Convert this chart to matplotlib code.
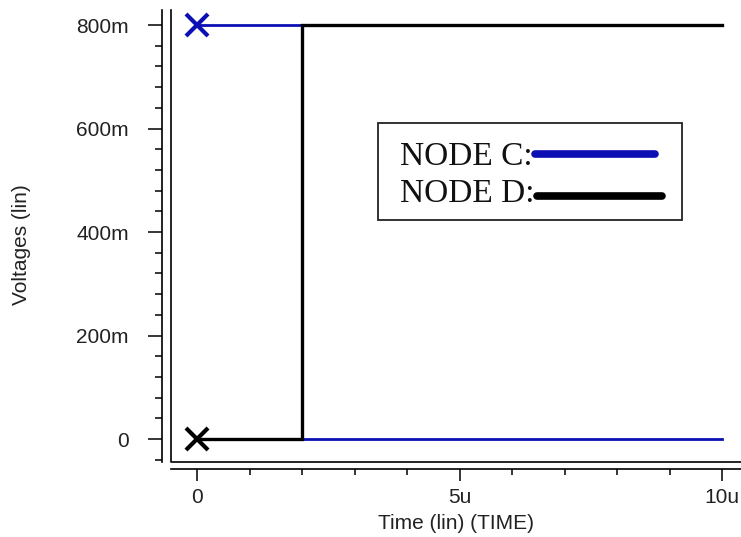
import matplotlib
matplotlib.use("Agg")
import matplotlib.pyplot as plt
from matplotlib.patches import Rectangle
from matplotlib.lines import Line2D
from matplotlib.ticker import FixedLocator

# waveform data (time in microseconds, volts)
time_us = [0, 2, 2, 10]
node_c = [0.8, 0.8, 0.0, 0.0]
node_d = [0.0, 0.0, 0.8, 0.8]

x_major = [-0.5, 0, 5, 10]
x_major_labels = ["", "0", "5u", "10u"]
x_minor = [1, 2, 3, 4, 6, 7, 8, 9]
y_major = [0.0, 0.2, 0.4, 0.6, 0.8]
y_major_labels = ["0", "200m", "400m", "600m", "800m"]
y_minor = [-0.04, 0.04, 0.08, 0.12, 0.16, 0.24, 0.28, 0.32, 0.36,
           0.44, 0.48, 0.52, 0.56, 0.64, 0.68, 0.72, 0.76]

legend_names = ["NODE C:", "NODE D:"]

BLUE = "#0c10b4"
BLACK = "#000000"
W, H = 741, 537

plt.rcParams["font.family"] = ["Liberation Sans", "DejaVu Sans"]

fig = plt.figure(figsize=(W / 100, H / 100), dpi=100)
ax = fig.add_axes([171 / W, 1 - 462 / H, 1 - 171 / W, (462 - 10) / H])

ax.plot(time_us, node_c, color=BLUE, lw=2.0, solid_joinstyle="miter")
ax.plot(time_us, node_d, color=BLACK, lw=2.4, solid_joinstyle="miter")
ax.plot([time_us[0]], [node_c[0]], marker="x", ms=16, mew=3, color=BLUE, clip_on=False)
ax.plot([time_us[0]], [node_d[0]], marker="x", ms=16, mew=3, color=BLACK, clip_on=False)

ax.set_xlim(-0.495, 10.36)
ax.set_ylim(-0.0444, 0.829)

# frame of the plot area (left and bottom only)
ax.plot([0, 0, 1], [1, 0, 0], transform=ax.transAxes, color=BLACK, lw=1.2,
        clip_on=False)

for s in ["top", "right"]:
    ax.spines[s].set_visible(False)
ax.spines["left"].set_position(("outward", 6.5))
ax.spines["bottom"].set_position(("outward", 5))
ax.spines["left"].set_linewidth(1.2)
ax.spines["bottom"].set_linewidth(1.2)

ax.xaxis.set_major_locator(FixedLocator(x_major))
ax.xaxis.set_minor_locator(FixedLocator(x_minor))
ax.set_xticklabels(x_major_labels)
ax.yaxis.set_major_locator(FixedLocator(y_major))
ax.yaxis.set_minor_locator(FixedLocator(y_minor))
ax.set_yticklabels(y_major_labels)

ax.tick_params(axis="y", which="major", length=10, width=1.1, pad=14,
               labelsize=15, labelcolor="#222222")
ax.tick_params(axis="y", which="minor", length=5, width=1.1)
ax.tick_params(axis="x", which="major", length=8.6, width=1.1, pad=5,
               labelsize=15, labelcolor="#222222")
ax.tick_params(axis="x", which="minor", length=4.3, width=1.1)

ax.set_xlabel("Time (lin) (TIME)", fontsize=15, color="#222222", labelpad=5)
ax.set_ylabel("Voltages (lin)", fontsize=15, color="#222222")
ax.yaxis.set_label_coords(-0.245, 0.48)

# legend box drawn by hand
fig.patches.append(Rectangle((378 / W, 1 - 220 / H), 304 / W, 97 / H,
                             transform=fig.transFigure, fill=False,
                             edgecolor="#222222", lw=1.3))
colors = [BLUE, BLACK]
baselines = [165, 202]
line_y = [154, 196]
line_end = [655, 662]
texts = []
for name, base in zip(legend_names, baselines):
    t = fig.text(400 / W, 1 - base / H, name, family="Liberation Serif",
                 fontsize=24, va="baseline", ha="left", color="#111111")
    texts.append(t)
fig.canvas.draw()
for t, c, ly, le in zip(texts, colors, line_y, line_end):
    bb = t.get_window_extent()
    fig.lines.append(Line2D([(bb.x1 + 2) / W, le / W], [1 - ly / H, 1 - ly / H],
                            transform=fig.transFigure, color=c, lw=5.5,
                            solid_capstyle="round"))

fig.savefig("out.png", dpi=100)
